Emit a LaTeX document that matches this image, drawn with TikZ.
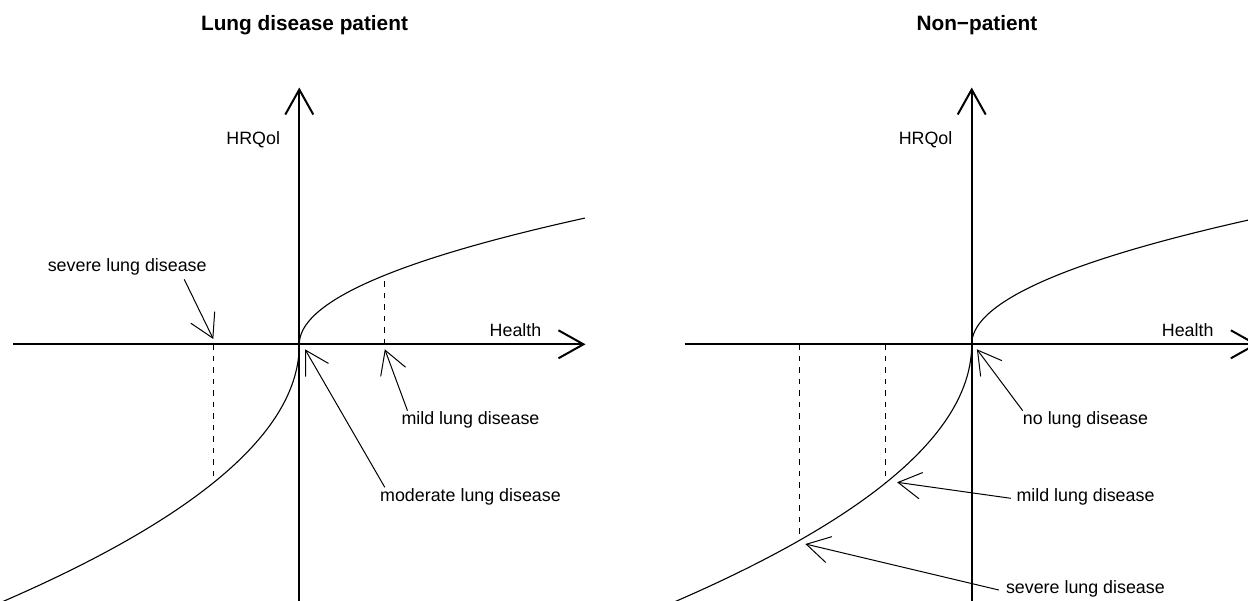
\documentclass[tikz,border=0pt]{standalone}
\usepackage{fontspec}
\setmainfont{Liberation Sans}
\usetikzlibrary{arrows.meta}
\begin{document}
\begin{tikzpicture}[x=1pt,y=-1pt,
  axis/.style={line width=2pt, -{Straight Barb[length=25pt,width=28pt]}},
  curveline/.style={line width=1.1pt},
  guide/.style={line width=1pt, dash pattern=on 5.5pt off 6pt},
  ann/.style={line width=1pt, -{Straight Barb[length=23pt,width=26.5pt]}},
  lbl/.style={inner sep=0pt, font=\fontsize{17.85}{20}\selectfont},
  ttl/.style={inner sep=0pt, font=\fontsize{20.8}{24}\selectfont\bfseries}]
\useasboundingbox (0,0) rectangle (1248,600);
\clip (0,0) rectangle (1248,600);

% ---------------- Left panel ----------------
\node[ttl] (T1) at (304.5,25) {Lung disease patient};
\coordinate (Y1b) at (299.3,606);
\coordinate (Y1t) at (299.3,87.5);
\coordinate (X1l) at (13.2,344.3);
\coordinate (X1r) at (585.5,344.3);
\draw[axis] (Y1b) -- (Y1t);
\draw[axis] (X1l) -- (X1r);
\node[lbl] (H1) at (253.2,140) {HRQol};
\node[lbl] (He1) at (515.5,330) {Health};

\draw[curveline] plot[domain=0:16.9, samples=120, smooth] ({299.3+\x*\x},{344.3-7.47*\x});
\draw[curveline] plot[domain=0:17.4, samples=120, smooth] ({299.3-\x*\x},{344.3+14.94*\x});

\coordinate (D1a) at (213.3,344.3);
\coordinate (D1b) at (213.3,482.6);
\coordinate (D2a) at (384.7,344.3);
\coordinate (D2b) at (384.7,275.5);
\draw[guide] (D1a) -- (D1b);
\draw[guide] (D2a) -- (D2b);

\node[lbl] (S1) at (127.2,267) {severe lung disease};
\node[lbl] (M1) at (470.5,420) {mild lung disease};
\node[lbl] (Mo1) at (470.5,497.3) {moderate lung disease};
\coordinate (S1s) at (184.2,279.3);
\coordinate (S1t) at (213.3,339);
\coordinate (M1s) at (407.5,410.7);
\coordinate (M1t) at (384.8,349.3);
\coordinate (Mo1s) at (384.8,487.3);
\coordinate (Mo1t) at (305,349.3);
\draw[ann] (S1s) -- (S1t);
\draw[ann] (M1s) -- (M1t);
\draw[ann] (Mo1s) -- (Mo1t);

% ---------------- Right panel ----------------
\node[ttl] (T2) at (976.9,25) {Non−patient};
\coordinate (Y2b) at (971.7,606);
\coordinate (Y2t) at (971.7,87.5);
\coordinate (X2l) at (684.6,344.3);
\coordinate (X2r) at (1257.9,344.3);
\draw[axis] (Y2b) -- (Y2t);
\draw[axis] (X2l) -- (X2r);
\node[lbl] (H2) at (925.6,140) {HRQol};
\node[lbl] (He2) at (1187.7,330) {Health};

\draw[curveline] plot[domain=0:17.1, samples=120, smooth] ({971.7+\x*\x},{344.3-7.47*\x});
\draw[curveline] plot[domain=0:17.4, samples=120, smooth] ({971.7-\x*\x},{344.3+14.94*\x});

\coordinate (D3a) at (799.5,344.3);
\coordinate (D3b) at (799.5,540);
\coordinate (D4a) at (885.3,344.3);
\coordinate (D4b) at (885.3,482.5);
\draw[guide] (D3a) -- (D3b);
\draw[guide] (D4a) -- (D4b);

\node[lbl] (N2) at (1085.5,420) {no lung disease};
\node[lbl] (M2) at (1085.5,497.3) {mild lung disease};
\node[lbl] (S2) at (1085.4,589) {severe lung disease};
\coordinate (N2s) at (1022.7,410.7);
\coordinate (N2t) at (976.9,349.3);
\coordinate (M2s) at (1010.8,498.3);
\coordinate (M2t) at (897.1,482.3);
\coordinate (S2s) at (998.8,590);
\coordinate (S2t) at (805.4,544);
\draw[ann] (N2s) -- (N2t);
\draw[ann] (M2s) -- (M2t);
\draw[ann] (S2s) -- (S2t);
\end{tikzpicture}
\end{document}
